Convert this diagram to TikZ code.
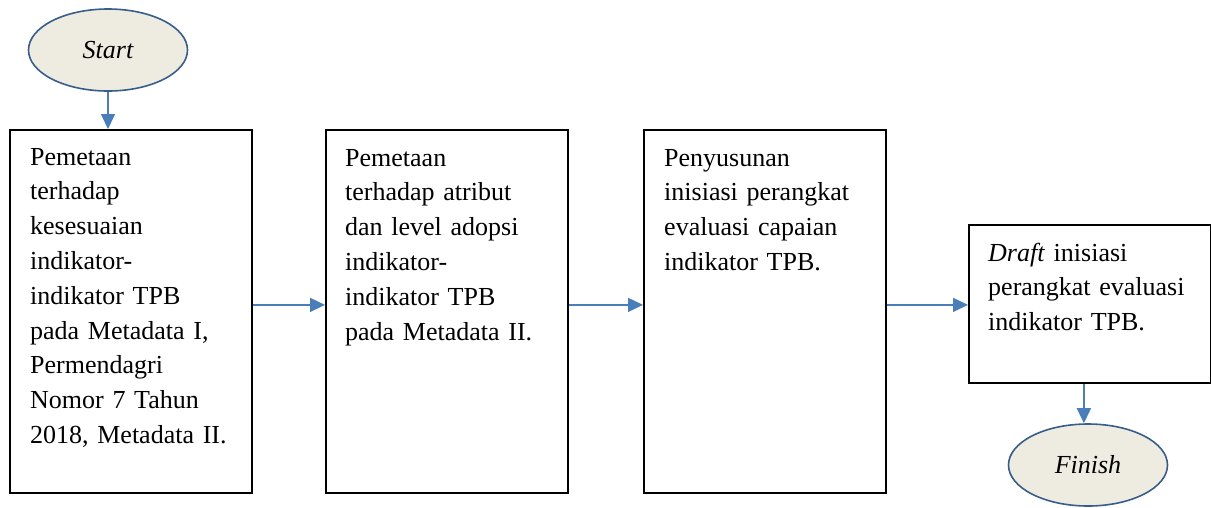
\documentclass[tikz,border=0pt]{standalone}
\usepackage{fontspec}
\setmainfont{Liberation Serif}
\usetikzlibrary{arrows.meta,shapes.geometric,calc}
\definecolor{arrblue}{HTML}{4A7EBB}
\definecolor{ellborder}{HTML}{385D8A}
\definecolor{ellfill}{HTML}{EEECE1}
\tikzset{
  stepbox/.style={draw=black, line width=1.8pt, rectangle, inner sep=0pt, anchor=north west},
  terminal/.style={ellipse, draw=ellborder, line width=1.6pt, fill=ellfill, inner sep=0pt,
    minimum width=159pt, minimum height=82pt, font=\fontsize{26}{30}\selectfont\itshape},
  boxtext/.style={anchor=base west, inner sep=0pt, text width=215pt, align=left,
    font=\fontsize{26}{34.8}\selectfont},
  arr/.style={draw=arrblue, line width=1.6pt, -{Triangle[length=15pt,width=14pt]}}
}
\begin{document}
\begin{tikzpicture}[x=1pt,y=-1pt]
\useasboundingbox (0,0) rectangle (1211,507);
\node[terminal] (start) at (108,50) {Start};
\node[stepbox, minimum width=242pt, minimum height=363pt] (b1) at (9,129) {};
\node[stepbox, minimum width=242pt, minimum height=363pt] (b2) at (325,129) {};
\node[stepbox, minimum width=242pt, minimum height=363pt] (b3) at (643,129) {};
\node[stepbox, minimum width=242pt, minimum height=158pt] (b4) at (968,224) {};
\node[terminal] (fin) at (1088,465) {Finish};

\node[boxtext] (t1) at ($(b1.north west)+(21,36)$) {Pemetaan\\terhadap\\kesesuaian\\indikator-\\indikator TPB\\pada Metadata I,\\Permendagri\\Nomor 7 Tahun\\2018, Metadata II.};
\node[boxtext] (t2) at ($(b2.north west)+(20,37)$) {Pemetaan\\terhadap atribut\\dan level adopsi\\indikator-\\indikator TPB\\pada Metadata II.};
\node[boxtext] (t3) at ($(b3.north west)+(21,37)$) {Penyusunan\\inisiasi perangkat\\evaluasi capaian\\indikator TPB.};
\node[boxtext] (t4) at ($(b4.north west)+(20,37)$) {\textit{Draft} inisiasi\\perangkat evaluasi\\indikator TPB.};

\draw[arr] (start.south) -- (start.south |- b1.north);
\draw[arr] ([yshift=6.5pt]b1.east) -- ([yshift=6.5pt]b2.west);
\draw[arr] ([yshift=6.5pt]b2.east) -- ([yshift=6.5pt]b3.west);
\draw[arr] ([yshift=-1pt]b3.east |- b4.west) -- ([yshift=-1pt]b4.west);
\draw[arr] ([xshift=-6pt]b4.south) -- ([xshift=-6pt]b4.south |- fin.north);
\end{tikzpicture}
\end{document}
